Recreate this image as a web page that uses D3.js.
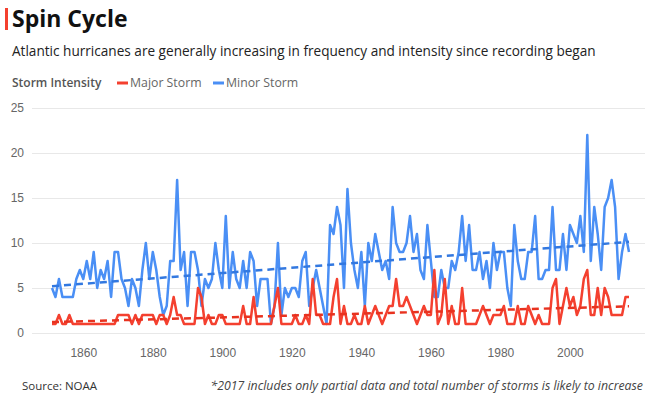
<!DOCTYPE html>
<html>
<head>
<meta charset="utf-8">
<script src="https://cdn.jsdelivr.net/npm/d3@7"></script>
<style>
  body { margin: 0; background: #fff; }
  svg { font-family: "Open Sans", "Noto Sans", sans-serif; }
  .grid line { stroke: #e8e8e8; }
  .grid path { display: none; }
  .axis text { fill: #666; font-size: 12px; }
  .axis path, .axis line { display: none; }
</style>
</head>
<body>
<div id="chart"></div>
<script>
var firstYear = 1851,
    lastYear = 2017;

// minor storms per year, 1851 - 2017
var minorStorms = [
  5,4,6,4,4,4,4,6,7,6,
  8,6,9,5,7,6,8,4,9,9,
  6,5,3,6,5,3,7,10,6,9,
  7,4,2,3,8,8,17,7,9,3,
  9,9,7,3,6,5,6,10,7,5,
  13,5,9,6,5,8,5,9,8,3,
  6,6,6,1,3,10,2,5,4,5,
  5,4,8,9,3,5,7,5,3,1,
  12,11,14,12,5,16,10,7,5,9,
  3,10,8,11,9,7,8,6,14,10,
  9,9,10,13,9,11,7,6,12,8,
  4,4,7,5,5,8,7,9,13,8,
  12,7,7,9,6,8,5,10,7,9,
  9,5,3,12,8,6,6,9,9,13,
  6,6,7,7,14,7,7,11,7,12,
  11,10,13,9,22,8,14,11,7,14,
  15,17,14,6,9,11,9
];

// major storms per year, 1851 - 2017
var majorStorms = [
  1,1,2,1,1,2,1,1,1,1,
  1,1,1,1,1,1,1,1,1,2,
  2,2,2,1,2,1,2,2,2,2,
  1,2,2,1,2,4,2,2,1,1,
  1,1,5,4,1,2,1,1,2,2,
  1,1,1,1,1,3,1,1,4,1,
  1,1,1,1,3,5,1,1,1,1,
  2,1,1,2,1,6,2,2,1,1,
  1,4,6,1,3,1,1,2,1,1,
  3,1,2,3,2,1,2,3,3,6,
  3,3,4,3,2,1,2,3,2,2,
  7,1,2,6,1,3,1,1,5,1,
  1,1,1,2,3,2,1,2,2,2,
  3,1,1,1,3,1,1,3,2,1,
  2,1,1,1,5,6,1,3,5,3,
  4,2,3,6,7,2,2,5,2,5,
  4,2,2,2,2,4,4
];

var yTicks = [0, 5, 10, 15, 20, 25],
    xTicks = [1860, 1880, 1900, 1920, 1940, 1960, 1980, 2000];

var years = d3.range(firstYear, lastYear + 1);

var width = 651,
    height = 399;

var colMajor = "#f4402f",
    colMinor = "#4a8ff5";

var svg = d3.select("#chart").append("svg")
    .attr("width", width)
    .attr("height", height);

// title block
svg.append("rect")
    .attr("x", 5).attr("y", 8)
    .attr("width", 3).attr("height", 22)
    .attr("fill", colMajor);

svg.append("text")
    .attr("x", 12).attr("y", 27)
    .style("font-size", "23px")
    .style("font-weight", "bold")
    .attr("fill", "#111")
    .text("Spin Cycle");

svg.append("text")
    .attr("x", 12).attr("y", 56)
    .style("font-size", "13.6px")
    .attr("fill", "#222")
    .text("Atlantic hurricanes are generally increasing in frequency and intensity since recording began");

// legend
var legend = svg.append("g").attr("transform", "translate(0,83)");
legend.append("text")
    .attr("x", 12).attr("dy", "0.35em")
    .style("font-size", "12px")
    .style("font-weight", "600")
    .attr("fill", "#555")
    .text("Storm Intensity");

var items = [{name: "Major Storm", col: colMajor, x: 117}, {name: "Minor Storm", col: colMinor, x: 213}];
var li = legend.selectAll(".li").data(items)
  .enter().append("g")
    .attr("transform", function(d) { return "translate(" + d.x + ",0)"; });
li.append("line")
    .attr("x1", 0).attr("x2", 11)
    .attr("stroke", function(d) { return d.col; })
    .attr("stroke-width", 3);
li.append("text")
    .attr("x", 13).attr("dy", "0.35em")
    .style("font-size", "12.3px")
    .attr("fill", "#666")
    .text(function(d) { return d.name; });

// scales
var x = d3.scaleLinear().domain([firstYear, lastYear]).range([52, 629]);
var y = d3.scaleLinear().domain([0, 25]).range([333, 108]);

// gridlines
svg.append("g")
    .attr("class", "grid")
    .attr("transform", "translate(645,0)")
    .call(d3.axisLeft(y).tickValues(yTicks).tickSize(613).tickFormat(""));

svg.append("g")
    .attr("class", "axis")
    .attr("transform", "translate(24,0)")
    .call(d3.axisLeft(y).tickValues(yTicks).tickSize(0).tickPadding(0));

svg.append("g")
    .attr("class", "axis")
    .attr("transform", "translate(0,344)")
    .call(d3.axisBottom(x).tickValues(xTicks).tickSize(0).tickPadding(4).tickFormat(d3.format("d")));

// lines
var line = function(vals) {
  return d3.line()
      .x(function(d, i) { return x(years[i]); })
      .y(function(d) { return y(d); })(vals);
};

svg.append("path")
    .attr("d", line(minorStorms))
    .attr("fill", "none")
    .attr("stroke", colMinor)
    .attr("stroke-width", 2.5)
    .attr("stroke-linejoin", "round");

svg.append("path")
    .attr("d", line(majorStorms))
    .attr("fill", "none")
    .attr("stroke", colMajor)
    .attr("stroke-width", 2.5)
    .attr("stroke-linejoin", "round");

// least squares trend
function trend(vals) {
  var mx = d3.mean(years), my = d3.mean(vals);
  var num = d3.sum(years, function(t, i) { return (t - mx) * (vals[i] - my); }),
      den = d3.sum(years, function(t) { return (t - mx) * (t - mx); });
  var b = num / den, a = my - b * mx;
  return [firstYear, lastYear].map(function(t) { return [t, a + b * t]; });
}

[[minorStorms, "#3278e0"], [majorStorms, "#e8321f"]].forEach(function(s) {
  svg.append("path")
      .attr("d", d3.line()
          .x(function(d) { return x(d[0]); })
          .y(function(d) { return y(d[1]); })(trend(s[0])))
      .attr("fill", "none")
      .attr("stroke", s[1])
      .attr("stroke-width", 2.5)
      .attr("stroke-dasharray", "7,5");
});

// footer
svg.append("text")
    .attr("x", 22).attr("y", 390)
    .style("font-size", "11.5px")
    .attr("fill", "#333")
    .text("Source: NOAA");

svg.append("text")
    .attr("x", 643).attr("y", 390)
    .attr("text-anchor", "end")
    .style("font-size", "12.3px")
    .style("font-style", "italic")
    .attr("fill", "#444")
    .text("*2017 includes only partial data and total number of storms is likely to increase");
</script>
</body>
</html>
